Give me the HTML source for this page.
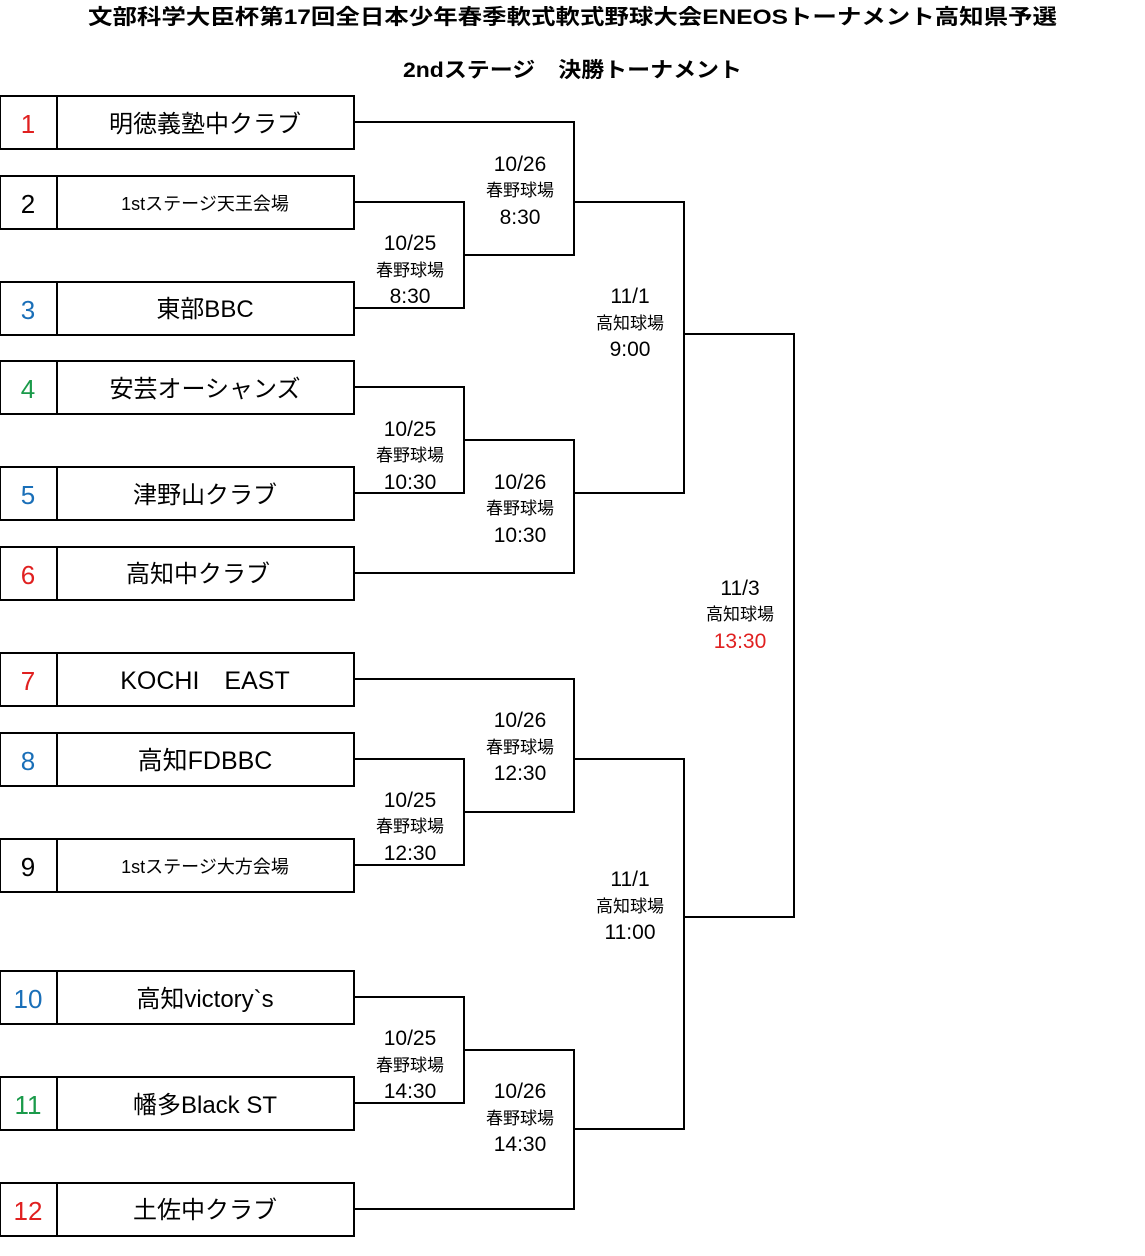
<!DOCTYPE html>
<html><head><meta charset="utf-8"><style>
body{margin:0;background:#fff;}
text{font-family:"Liberation Sans","Noto Sans CJK JP",sans-serif;}
</style></head><body>
<svg width="1145" height="1251" xmlns="http://www.w3.org/2000/svg">
<text x="88" y="24" font-size="21" font-weight="bold" textLength="969" lengthAdjust="spacingAndGlyphs">文部科学大臣杯第17回全日本少年春季軟式軟式野球大会ENEOSトーナメント高知県予選</text>
<text x="403" y="77" font-size="21" font-weight="bold" textLength="339" lengthAdjust="spacingAndGlyphs">2ndステージ　決勝トーナメント</text>
<g fill="none" stroke="#000" stroke-width="2">
<rect x="0" y="96" width="354" height="53"/><line x1="57" y1="96" x2="57" y2="149"/>
<rect x="0" y="176" width="354" height="53"/><line x1="57" y1="176" x2="57" y2="229"/>
<rect x="0" y="282" width="354" height="53"/><line x1="57" y1="282" x2="57" y2="335"/>
<rect x="0" y="361" width="354" height="53"/><line x1="57" y1="361" x2="57" y2="414"/>
<rect x="0" y="467" width="354" height="53"/><line x1="57" y1="467" x2="57" y2="520"/>
<rect x="0" y="547" width="354" height="53"/><line x1="57" y1="547" x2="57" y2="600"/>
<rect x="0" y="653" width="354" height="53"/><line x1="57" y1="653" x2="57" y2="706"/>
<rect x="0" y="733" width="354" height="53"/><line x1="57" y1="733" x2="57" y2="786"/>
<rect x="0" y="839" width="354" height="53"/><line x1="57" y1="839" x2="57" y2="892"/>
<rect x="0" y="971" width="354" height="53"/><line x1="57" y1="971" x2="57" y2="1024"/>
<rect x="0" y="1077" width="354" height="53"/><line x1="57" y1="1077" x2="57" y2="1130"/>
<rect x="0" y="1183" width="354" height="53"/><line x1="57" y1="1183" x2="57" y2="1236"/>
<polyline points="354,122 574,122 574,255 464,255"/>
<polyline points="354,202 464,202 464,308 354,308"/>
<polyline points="574,202 684,202 684,493 574,493"/>
<polyline points="354,387 464,387 464,493 354,493"/>
<polyline points="464,440 574,440 574,573 354,573"/>
<polyline points="684,334 794,334 794,917 684,917"/>
<polyline points="354,679 574,679 574,812 464,812"/>
<polyline points="354,759 464,759 464,865 354,865"/>
<polyline points="574,759 684,759 684,1129 574,1129"/>
<polyline points="354,997 464,997 464,1103 354,1103"/>
<polyline points="464,1050 574,1050 574,1209 354,1209"/>
</g>
<g font-size="26" text-anchor="middle">
<text x="28" y="133" fill="#e02020">1</text><text x="205" y="132" font-size="24">明徳義塾中クラブ</text>
<text x="28" y="213">2</text><text x="205" y="210" font-size="18">1stステージ天王会場</text>
<text x="28" y="319" fill="#1a6fb8">3</text><text x="205" y="317" font-size="24">東部BBC</text>
<text x="28" y="398" fill="#1a9a4a">4</text><text x="205" y="397" font-size="24">安芸オーシャンズ</text>
<text x="28" y="504" fill="#1a6fb8">5</text><text x="205" y="503" font-size="24">津野山クラブ</text>
<text x="28" y="584" fill="#e02020">6</text><text x="198" y="582" font-size="24">高知中クラブ</text>
<text x="28" y="690" fill="#e02020">7</text><text x="205" y="689" font-size="25">KOCHI　EAST</text>
<text x="28" y="770" fill="#1a6fb8">8</text><text x="205" y="769" font-size="25">高知FDBBC</text>
<text x="28" y="876">9</text><text x="205" y="873" font-size="18">1stステージ大方会場</text>
<text x="28" y="1008" fill="#1a6fb8">10</text><text x="205" y="1007" font-size="24">高知victory`s</text>
<text x="28" y="1114" fill="#1a9a4a">11</text><text x="205" y="1113" font-size="24">幡多Black ST</text>
<text x="28" y="1220" fill="#e02020">12</text><text x="205" y="1218" font-size="24">土佐中クラブ</text>
</g>
<g text-anchor="middle" font-size="21">
<text x="520" y="171">10/26</text><text x="520" y="196" font-size="17">春野球場</text><text x="520" y="224">8:30</text>
<text x="410" y="250">10/25</text><text x="410" y="276" font-size="17">春野球場</text><text x="410" y="303">8:30</text>
<text x="630" y="303">11/1</text><text x="630" y="329" font-size="17">高知球場</text><text x="630" y="356">9:00</text>
<text x="410" y="436">10/25</text><text x="410" y="461" font-size="17">春野球場</text><text x="410" y="489">10:30</text>
<text x="520" y="489">10/26</text><text x="520" y="514" font-size="17">春野球場</text><text x="520" y="542">10:30</text>
<text x="740" y="595">11/3</text><text x="740" y="620" font-size="17">高知球場</text><text x="740" y="648" fill="#e02020">13:30</text>
<text x="520" y="727">10/26</text><text x="520" y="753" font-size="17">春野球場</text><text x="520" y="780">12:30</text>
<text x="410" y="807">10/25</text><text x="410" y="832" font-size="17">春野球場</text><text x="410" y="860">12:30</text>
<text x="630" y="886">11/1</text><text x="630" y="912" font-size="17">高知球場</text><text x="630" y="939">11:00</text>
<text x="410" y="1045">10/25</text><text x="410" y="1071" font-size="17">春野球場</text><text x="410" y="1098">14:30</text>
<text x="520" y="1098">10/26</text><text x="520" y="1124" font-size="17">春野球場</text><text x="520" y="1151">14:30</text>
</g>
</svg>
</body></html>
